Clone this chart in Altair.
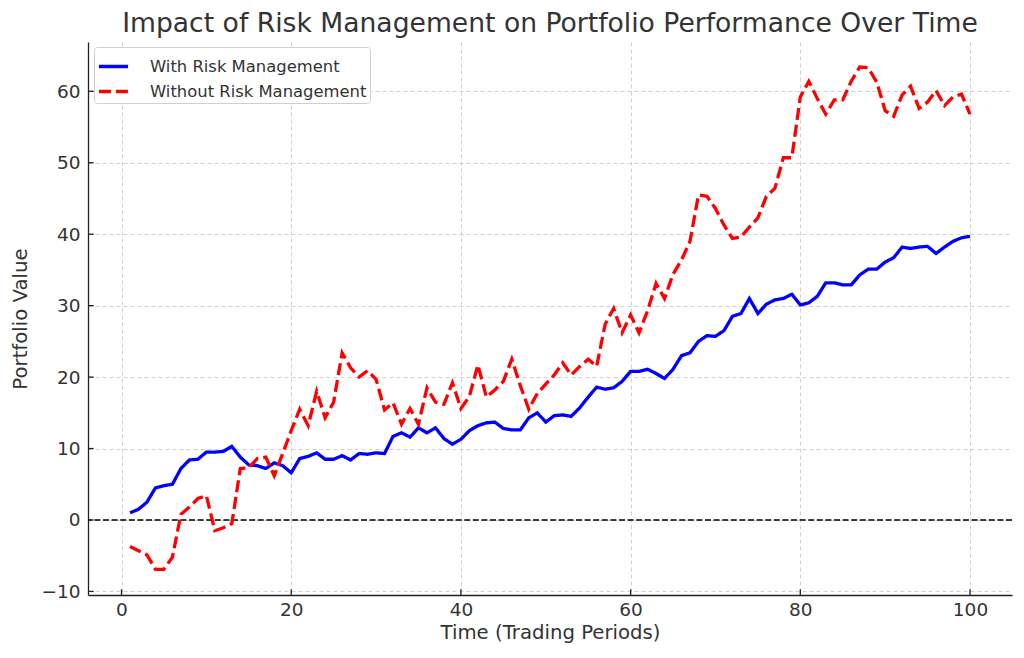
import altair as alt
import pandas as pd

periods = list(range(1, 101))
with_rm = [1.0, 1.5, 2.5, 4.5, 4.8, 5.0, 7.2, 8.4, 8.5, 9.5,
           9.5, 9.6, 10.3, 8.8, 7.7, 7.6, 7.2, 8.0, 7.6, 6.6,
           8.6, 8.9, 9.4, 8.5, 8.5, 9.0, 8.4, 9.3, 9.2, 9.4,
           9.3, 11.7, 12.2, 11.6, 12.9, 12.2, 12.9, 11.4, 10.6, 11.3,
           12.5, 13.2, 13.6, 13.7, 12.8, 12.6, 12.6, 14.3, 15.0, 13.7,
           14.6, 14.7, 14.5, 15.7, 17.2, 18.6, 18.3, 18.5, 19.4, 20.8,
           20.8, 21.1, 20.5, 19.8, 21.1, 23.0, 23.4, 25.0, 25.8, 25.7,
           26.5, 28.5, 28.9, 31.0, 28.9, 30.2, 30.8, 31.0, 31.6, 30.1,
           30.4, 31.3, 33.2, 33.2, 32.9, 32.9, 34.3, 35.1, 35.1, 36.1,
           36.7, 38.2, 38.0, 38.2, 38.3, 37.3, 38.2, 39.0, 39.5, 39.7]
without_rm = [-3.7, -4.3, -4.9, -6.9, -6.9, -5.2, 0.8, 1.8, 3.0, 3.4,
              -1.5, -1.1, -0.5, 7.2, 7.3, 8.6, 8.8, 6.2, 9.3, 12.5,
              15.5, 13.2, 18.0, 14.3, 16.5, 23.4, 21.3, 20.0, 20.9, 19.7,
              15.4, 16.4, 13.4, 15.6, 13.4, 18.5, 16.5, 16.2, 19.2, 15.6,
              17.3, 21.7, 17.2, 18.2, 19.4, 22.5, 18.8, 15.5, 17.7, 19.0,
              20.3, 22.0, 20.3, 21.5, 22.5, 21.5, 27.4, 29.6, 26.2, 28.7,
              26.2, 29.3, 33.1, 31.0, 34.4, 36.4, 39.0, 45.5, 45.3, 43.6,
              41.3, 39.4, 39.6, 41.0, 42.3, 45.3, 46.4, 50.7, 50.7, 59.2,
              61.4, 59.0, 56.8, 58.8, 58.8, 61.4, 63.4, 63.3, 61.3, 57.3,
              56.5, 59.5, 60.7, 57.6, 58.5, 60.1, 58.0, 59.2, 59.6, 56.8]
series_names = ["With Risk Management", "Without Risk Management"]
series_colors = ["#0000ff", "#ff0000"]
x_ticks = [0, 20, 40, 60, 80, 100]
y_ticks = [-10, 0, 10, 20, 30, 40, 50, 60]

df = pd.DataFrame({
    "Time": periods * 2,
    "Value": with_rm + without_rm,
    "Series": [series_names[0]] * 100 + [series_names[1]] * 100,
})
zero_df = pd.DataFrame({"zero": [0]})
xtick_df = pd.DataFrame({"t": x_ticks})
ytick_df = pd.DataFrame({"v": y_ticks})

W, H = 924, 553
TICK = 5.7

xscale = alt.Scale(domain=[-3.95, 104.95], nice=False, zero=False)
yscale = alt.Scale(domain=[-10.5, 66.9], nice=False, zero=False)

legend_cfg = dict(title=None, orient="none", legendX=6, legendY=5,
                  strokeColor="#cfcfcf", fillColor="white",
                  padding=3, cornerRadius=3,
                  symbolType="stroke", symbolSize=850,
                  symbolStrokeWidth=3.3, labelFontSize=16.4,
                  labelColor="#333333", rowPadding=0,
                  labelOffset=20, labelLimit=0)

lines = alt.Chart(df).mark_line(strokeWidth=3.3).encode(
    x=alt.X("Time:Q", scale=xscale,
            axis=alt.Axis(title="Time (Trading Periods)", values=x_ticks)),
    y=alt.Y("Value:Q", scale=yscale,
            axis=alt.Axis(title="Portfolio Value", values=y_ticks)),
    color=alt.Color("Series:N", scale=alt.Scale(domain=series_names, range=series_colors),
                    legend=alt.Legend(**legend_cfg)),
    strokeDash=alt.StrokeDash("Series:N",
                              scale=alt.Scale(domain=series_names, range=[[1, 0], [12, 5]]),
                              legend=alt.Legend(**legend_cfg)),
)

zero_line = alt.Chart(zero_df).mark_rule(color="black", strokeWidth=1.6, strokeDash=[6, 2.6]).encode(
    y=alt.Y("zero:Q", scale=yscale)
)

# inward tick marks (matplotlib style "in")
xticks_in = alt.Chart(xtick_df).mark_rule(color="#222222", strokeWidth=1.3).encode(
    x=alt.X("t:Q", scale=xscale), y=alt.value(H), y2=alt.value(H - TICK)
)
yticks_in = alt.Chart(ytick_df).mark_rule(color="#222222", strokeWidth=1.3).encode(
    y=alt.Y("v:Q", scale=yscale), x=alt.value(0), x2=alt.value(TICK)
)

chart = alt.layer(zero_line, lines, xticks_in, yticks_in).properties(
    width=W, height=H,
    title=alt.TitleParams("Impact of Risk Management on Portfolio Performance Over Time",
                          fontSize=26.6, fontWeight="normal", color="#333333",
                          anchor="middle", offset=4),
    padding={"left": 80, "top": 34, "right": 4, "bottom": 62},
    autosize=alt.AutoSizeParams(type="none"),
).configure(font="DejaVu Sans").configure_view(stroke=None).configure_axis(
    grid=True, gridColor="#cccccc", gridDash=[4, 3], gridWidth=0.9,
    domainColor="#222222", domainWidth=1.3, ticks=False,
    labelFontSize=18.5, labelColor="#333333", titleFontSize=19.7, titleColor="#333333",
    titleFontWeight="normal",
).configure_axisX(labelPadding=5, titlePadding=4).configure_axisY(labelPadding=8, titlePadding=10)

chart.save("out.html", embed_options={"renderer": "svg", "actions": False})
